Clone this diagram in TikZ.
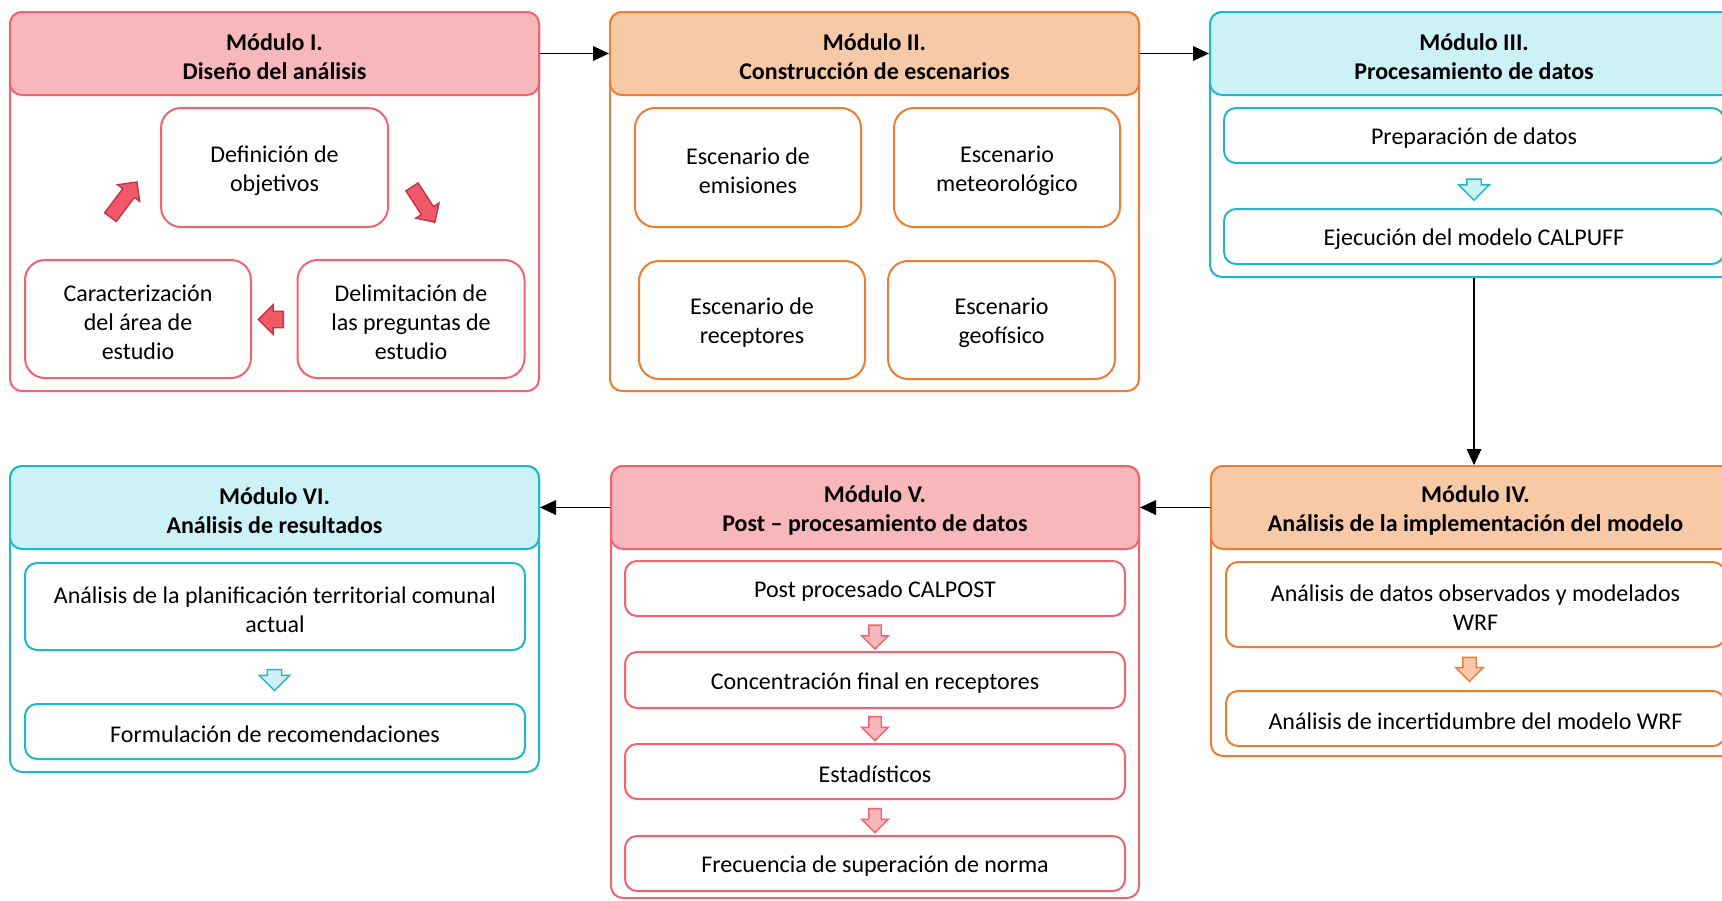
\documentclass[tikz,border=0pt]{standalone}
\usepackage{fontspec}
\setmainfont{Carlito}
\usetikzlibrary{shapes.arrows,arrows.meta}
\definecolor{redB}{RGB}{242,99,111}
\definecolor{redF}{RGB}{248,183,186}
\definecolor{redA}{RGB}{243,88,104}
\definecolor{redAD}{RGB}{190,56,72}
\definecolor{oraB}{RGB}{237,125,49}
\definecolor{oraF}{RGB}{247,201,166}
\definecolor{cyaB}{RGB}{31,184,201}
\definecolor{cyaF}{RGB}{204,242,247}
\newcommand\pxu{0.75pt}
% box node (empty) plus its text node, shifted slightly down as in the reference
\newcommand\bx[7]{%
  \node[#1, minimum width=#5*\pxu, minimum height=#6*\pxu] (#2) at (#3,#4) {};
  \node[txt, #1, draw=none, fill=none, minimum width=0pt, minimum height=0pt]
    (#2t) at ([yshift=-3*\pxu]#2.center) {#7};}
% block arrow: name, x, y, length, head width, shaft width, rotation, tip angle, border, fill
\newcommand\barrow[9]{%
  \node[blockarrow, draw=#8, fill=#9, minimum height=#4*\pxu, minimum width=#5*\pxu,
    inner ysep=#6*\pxu/2, single arrow head extend={(#5-#6)*\pxu/2}, rotate=#7] (#1) at (#2,#3) {};}
\tikzset{
  base/.style={draw, line width=1.5pt, inner sep=0pt, align=center, fill=white,
    font=\fontsize{18}{21.75}\selectfont},
  txt/.style={inner sep=0pt, align=center},
  outerbox/.style={base, rounded corners=9pt},
  hdr/.style={base, rounded corners=9pt, font=\fontsize{18}{21.75}\selectfont\bfseries},
  bigbox/.style={base, rounded corners=15pt},
  slimbox/.style={base, rounded corners=9pt},
  blockarrow/.style={single arrow, draw, line width=1.1pt, inner xsep=0pt,
    single arrow head indent=0pt},
  conn/.style={line width=0.9pt, -{Triangle[length=12pt,width=11pt]}},
}
\begin{document}
\begin{tikzpicture}[x=0.75pt,y=-0.75pt]
\useasboundingbox (0,0) rectangle (1722,900);
\clip (0,0) rectangle (1722,900);
% ---------- Modulo I ----------
\bx{outerbox,draw=redB}{m1}{274.5}{201.5}{529}{379}{}
\bx{hdr,draw=redB,fill=redF}{h1}{274.5}{53.5}{529}{83}{Módulo I.\\Diseño del análisis}
\bx{bigbox,draw=redB}{a1}{274.5}{167.5}{227}{119}{Definición de\\objetivos}
\bx{bigbox,draw=redB}{a2}{138}{319}{226}{118}{Caracterización\\del área de\\estudio}
\bx{bigbox,draw=redB}{a3}{411}{319}{227}{118}{Delimitación de\\las preguntas de\\estudio}
\barrow{ar1}{121.5}{202.5}{44}{26}{13}{53}{redAD}{redA}
\barrow{ar2}{421.5}{201.5}{42}{26}{13}{-57}{redAD}{redA}
\barrow{ar3}{275}{319.5}{25}{28}{15}{180}{redAD}{redA}
% ---------- Modulo II ----------
\bx{outerbox,draw=oraB}{m2}{874.5}{201.5}{529}{379}{}
\bx{hdr,draw=oraB,fill=oraF}{h2}{874.5}{53.5}{529}{83}{Módulo II.\\Construcción de escenarios}
\bx{bigbox,draw=oraB}{b1}{748}{167.5}{226}{119}{Escenario de\\emisiones}
\bx{bigbox,draw=oraB}{b2}{1007}{167.5}{226}{119}{Escenario\\meteorológico}
\bx{bigbox,draw=oraB}{b3}{752}{320}{226}{118}{Escenario de\\receptores}
\bx{bigbox,draw=oraB}{b4}{1001.5}{320}{227}{118}{Escenario\\geofísico}
% ---------- Modulo III ----------
\bx{outerbox,draw=cyaB}{m3}{1474}{144.5}{528}{265}{}
\bx{hdr,draw=cyaB,fill=cyaF}{h3}{1474}{53.5}{528}{83}{Módulo III.\\Procesamiento de datos}
\bx{slimbox,draw=cyaB}{c1}{1474}{135.5}{500}{55}{Preparación de datos}
\bx{slimbox,draw=cyaB}{c2}{1474}{236.5}{500}{55}{Ejecución del modelo CALPUFF}
\barrow{ac}{1474}{186}{21}{29}{13}{-90}{cyaB}{cyaF}
% ---------- Modulo IV ----------
\bx{outerbox,draw=oraB}{m4}{1475.5}{611}{529}{290}{}
\bx{hdr,draw=oraB,fill=oraF}{h4}{1475.5}{507.5}{529}{83}{Módulo IV.\\Análisis de la implementación del modelo}
\bx{slimbox,draw=oraB}{d1}{1475.5}{604.5}{499}{85}{Análisis de datos observados y modelados\\WRF}
\bx{slimbox,draw=oraB}{d2}{1475.5}{718.5}{499}{55}{Análisis de incertidumbre del modelo WRF}
\barrow{ad}{1469.5}{666}{24}{26}{12}{-90}{oraB}{oraF}
% ---------- Modulo V ----------
\bx{outerbox,draw=redB}{m5}{875}{682}{528}{432}{}
\bx{hdr,draw=redB,fill=redF}{h5}{875}{507.5}{528}{83}{Módulo V.\\Post -- procesamiento de datos}
\bx{slimbox,draw=redB}{e1}{875}{588.5}{500}{55}{Post procesado CALPOST}
\bx{slimbox,draw=redB}{e2}{875}{680}{500}{56}{Concentración final en receptores}
\bx{slimbox,draw=redB}{e3}{875}{771.5}{500}{55}{Estadísticos}
\bx{slimbox,draw=redB}{e4}{875}{863.5}{500}{55}{Frecuencia de superación de norma}
\barrow{ae1}{875}{634}{24}{25}{11}{-90}{redB}{redF}
\barrow{ae2}{875}{725.5}{24}{25}{11}{-90}{redB}{redF}
\barrow{ae3}{875}{817.5}{24}{25}{11}{-90}{redB}{redF}
% ---------- Modulo VI ----------
\bx{outerbox,draw=cyaB}{m6}{274.5}{619}{529}{306}{}
\bx{hdr,draw=cyaB,fill=cyaF}{h6}{274.5}{507.5}{529}{83}{Módulo VI.\\Análisis de resultados}
\bx{slimbox,draw=cyaB}{f1}{275}{606.5}{500}{87}{Análisis de la planificación territorial comunal\\actual}
\bx{slimbox,draw=cyaB}{f2}{275}{731.5}{500}{55}{Formulación de recomendaciones}
\barrow{af}{274.5}{676.5}{21}{29}{13}{-90}{cyaB}{cyaF}
% ---------- connectors ----------
\draw[conn] (h1.east) -- (h2.west);
\draw[conn] (h2.east) -- (h3.west);
\draw[conn] (m3.south) -- (h4.north -| m3.south);
\draw[conn] (h4.west) -- (h5.east);
\draw[conn] (h5.west) -- (h6.east);
\end{tikzpicture}
\end{document}
